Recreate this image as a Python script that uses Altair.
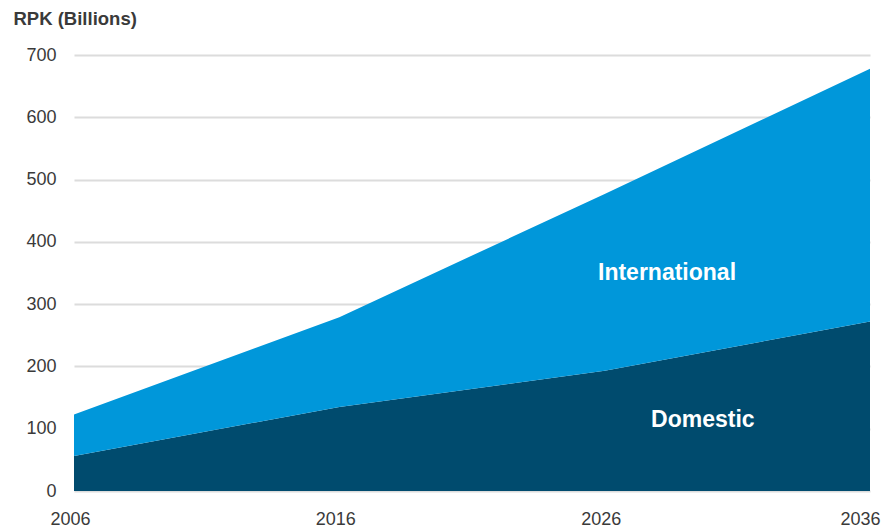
import altair as alt
import pandas as pd

years = [2006, 2016, 2026, 2036]
domestic = [56, 135, 193, 272]
international = [67, 144, 284, 406]

series = ["Domestic", "International"]
colors = ["#004B6E", "#0097DA"]

rows = []
for i, y in enumerate(years):
    rows.append({"year": y, "segment": "Domestic", "value": domestic[i], "ord": 0})
    rows.append({"year": y, "segment": "International", "value": international[i], "ord": 1})
df = pd.DataFrame(rows)

label_text = ["International", "Domestic"]
label_x = [2028.35, 2029.7]
label_y = [350, 114]
labels = pd.DataFrame({"text": label_text, "x": label_x, "y": label_y})

FONT = "Liberation Sans"

area = alt.Chart(df).mark_area(opacity=1).encode(
    x=alt.X("year:Q",
            scale=alt.Scale(domain=[2006, 2036], nice=False, zero=False),
            axis=alt.Axis(values=years, format="d", title=None, grid=False,
                          domain=False, ticks=False, labelFontSize=18,
                          labelColor="#3a3a3a", labelPadding=19,
                          labelAlign={"condition": {"test": "datum.value == 2036", "value": "right"}, "value": "center"},
                          labelOffset={"condition": {"test": "datum.value == 2036", "value": 10}, "value": -4},
                          labelFlush=False, labelFont=FONT)),
    y=alt.Y("value:Q", stack="zero",
            scale=alt.Scale(domain=[0, 700], nice=False),
            axis=alt.Axis(values=[0, 100, 200, 300, 400, 500, 600, 700],
                          title="RPK (Billions)", titleAngle=0, titleAlign="left",
                          titleBaseline="alphabetic", titleX=-61, titleY=-31,
                          titleFontSize=18.5, titleFontWeight="bold",
                          titleColor="#3a3a3a", titleFont=FONT,
                          grid=True, gridColor="#dcdcdc", gridWidth=2,
                          domain=False, ticks=False, labelFontSize=18,
                          labelColor="#3a3a3a", labelPadding=18, labelFont=FONT)),
    color=alt.Color("segment:N", scale=alt.Scale(domain=series, range=colors), legend=None),
    order=alt.Order("ord:Q"),
)

text = alt.Chart(labels).mark_text(
    color="white", fontSize=23, fontWeight="bold", font=FONT, align="center", baseline="middle"
).encode(
    x="x:Q", y="y:Q", text="text:N"
)

chart = alt.layer(area, text).properties(
    width=796, height=436,
    autosize=alt.AutoSizeParams(type="none"),
    padding={"left": 66, "top": 47, "right": 11, "bottom": 40},
).configure_view(stroke=None)

chart.save("out.html", embed_options={"renderer": "svg", "actions": False})
